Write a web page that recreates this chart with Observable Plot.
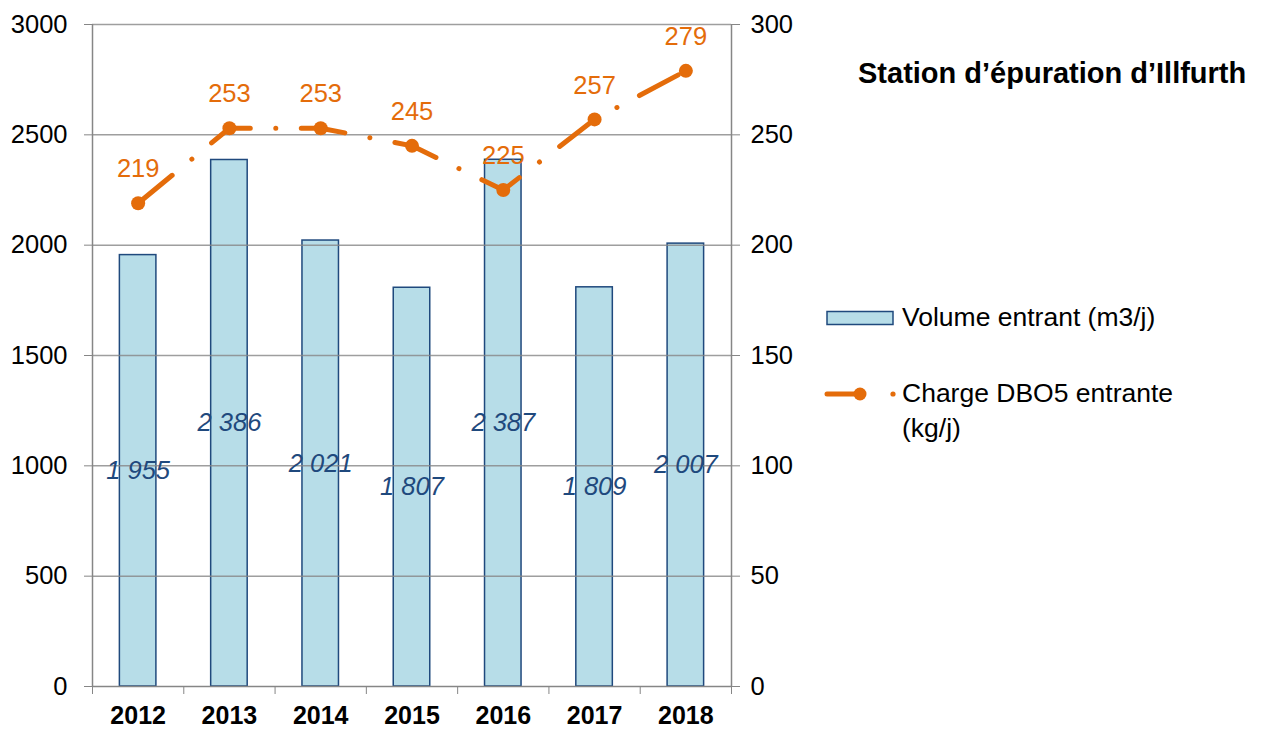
<!DOCTYPE html>
<html>
<head>
<meta charset="utf-8">
<script src="https://cdn.jsdelivr.net/npm/d3@7"></script>
<script src="https://cdn.jsdelivr.net/npm/@observablehq/plot@0.6"></script>
<style>
  html, body { margin: 0; padding: 0; background: #fff; }
  #wrap { position: relative; width: 1268px; height: 731px; font-family: "Liberation Sans", Arial, sans-serif; }
  #title { position: absolute; left: 858px; top: 57px; font-size: 29px; font-weight: bold; color: #000; white-space: nowrap; }
  .leg { position: absolute; font-size: 26.5px; color: #000; line-height: 35px; white-space: nowrap; }
  .legsw { position: absolute; }
</style>
</head>
<body>
<div id="wrap"></div>
<script>
const years = ["2012", "2013", "2014", "2015", "2016", "2017", "2018"];
const volume = [1955, 2386, 2021, 1807, 2387, 1809, 2007];
const charge = [219, 253, 253, 245, 225, 257, 279];
const leftTicks = [0, 500, 1000, 1500, 2000, 2500, 3000];
const rightTicks = [0, 50, 100, 150, 200, 250, 300];
const titleText = "Station d’épuration d’Illfurth";
const legendBar = "Volume entrant (m3/j)";
const legendLine = ["Charge DBO5 entrante", "(kg/j)"];

const ratio = 10; // right axis (kg/j) to left axis (m3/j)
const data = years.map((y, i) => ({i, year: y, volume: volume[i], charge: charge[i]}));
const fmt = d3.formatLocale({decimal: ",", thousands: " ", grouping: [3], currency: ["", " €"]}).format(",d");

const grey = "#868686";
const orange = "#E46C0A";
const barFill = "#B7DDE8";
const barStroke = "#1F497D";
const half = 0.2;

const plot = Plot.plot({
  width: 1268,
  height: 731,
  marginLeft: 92,
  marginRight: 537,
  marginTop: 24,
  marginBottom: 45,
  style: {fontFamily: "Liberation Sans, Arial, sans-serif", fontSize: "25px", color: "#000", background: "transparent", overflow: "visible"},
  x: {domain: [-0.5, years.length - 0.5], axis: null},
  y: {domain: [0, 3000], axis: null},
  marks: [
    Plot.rectY(data, {x1: d => d.i - half, x2: d => d.i + half, y: "volume", fill: barFill, stroke: barStroke, strokeWidth: 1.5}),
    Plot.ruleY(leftTicks.slice(1), {stroke: grey, strokeWidth: 1.5, strokeOpacity: 0.8}),
    Plot.text(data, {x: "i", y: d => d.volume / 2, text: d => fmt(d.volume), fill: barStroke, fontStyle: "italic", fontSize: 25.5}),
    Plot.ruleX([-0.5, years.length - 0.5], {stroke: grey, strokeWidth: 1.5}),
    Plot.ruleY([0], {stroke: grey, strokeWidth: 1.5}),
    Plot.axisY({anchor: "left", ticks: leftTicks, tickSize: 8, tickPadding: 17, stroke: grey, fill: "#000", fontSize: 25.5, label: null, tickFormat: d => String(d)}),
    Plot.axisY({anchor: "right", ticks: rightTicks.map(v => v * ratio), tickSize: 8, tickPadding: 11, stroke: grey, fill: "#000", fontSize: 25.5, label: null, tickFormat: d => String(d / ratio)}),
    Plot.axisX({ticks: d3.range(years.length + 1).map(k => k - 0.5), tickSize: 8, tickFormat: () => "", stroke: grey, label: null}),
    Plot.axisX({ticks: d3.range(years.length), tickSize: 0, tickPadding: 20, tickFormat: k => years[k], fontWeight: "bold", fontSize: 25, fill: "#000", label: null}),
    Plot.line(data, {x: "i", y: d => d.charge * ratio, stroke: orange, strokeWidth: 5, strokeDasharray: "44 25.5 0.01 25.5", strokeLinecap: "round"}),
    Plot.dot(data, {x: "i", y: d => d.charge * ratio, r: 7, fill: orange, stroke: "none"}),
    Plot.text(data, {x: "i", y: d => d.charge * ratio, text: d => String(d.charge), dy: -34, fill: orange, fontSize: 25.5})
  ]
});

const wrap = document.getElementById("wrap");
wrap.appendChild(plot);

const t = document.createElement("div");
t.id = "title";
t.textContent = titleText;
wrap.appendChild(t);

// legend: bar
const sw1 = document.createElementNS("http://www.w3.org/2000/svg", "svg");
sw1.setAttribute("class", "legsw");
sw1.setAttribute("width", 70); sw1.setAttribute("height", 18);
sw1.style.left = "825px"; sw1.style.top = "309px";
sw1.innerHTML = `<rect x="2" y="2.5" width="66" height="13" fill="${barFill}" stroke="${barStroke}" stroke-width="1.5"/>`;
wrap.appendChild(sw1);
const l1 = document.createElement("div");
l1.className = "leg"; l1.style.left = "902px"; l1.style.top = "300px";
l1.textContent = legendBar;
wrap.appendChild(l1);

// legend: line
const sw2 = document.createElementNS("http://www.w3.org/2000/svg", "svg");
sw2.setAttribute("class", "legsw");
sw2.setAttribute("width", 80); sw2.setAttribute("height", 20);
sw2.style.left = "820px"; sw2.style.top = "384px";
sw2.innerHTML = `<line x1="7" y1="10" x2="42" y2="10" stroke="${orange}" stroke-width="5" stroke-linecap="round"/>
<circle cx="40" cy="10" r="6.5" fill="${orange}"/>
<circle cx="73" cy="10" r="2.6" fill="${orange}"/>`;
wrap.appendChild(sw2);
const l2 = document.createElement("div");
l2.className = "leg"; l2.style.left = "902px"; l2.style.top = "376px";
l2.innerHTML = legendLine.join("<br>");
wrap.appendChild(l2);
</script>
</body>
</html>
